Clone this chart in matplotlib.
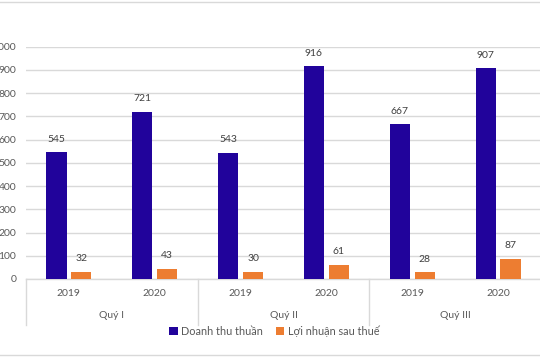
import matplotlib
matplotlib.use("Agg")
import matplotlib.pyplot as plt
import matplotlib.transforms as mtransforms
from matplotlib.patches import Patch
from matplotlib.lines import Line2D
import numpy as np

plt.rcParams['font.family'] = ['Lato', 'DejaVu Sans']

years = ["2019", "2020", "2019", "2020", "2019", "2020"]
quarters = ["Quý I", "Quý II", "Quý III"]
series_names = ["Doanh thu thuần", "Lợi nhuận sau thuế"]
revenue = [545, 721, 543, 916, 667, 907]
profit = [32, 43, 30, 61, 28, 87]

BLUE = "#21039B"
ORANGE = "#ED7D31"
TXT = "#595959"
GRID = "#D9D9D9"

W, H = 540, 360
fig = plt.figure(figsize=(W / 100, H / 100), dpi=100)
left, right, top, bottom = 26, 541, 46.7, 279
ax = fig.add_axes([left / W, 1 - bottom / H, (right - left) / W, (bottom - top) / H])

x = np.arange(len(years))
bw = 0.235
off = 0.145
b1 = ax.bar(x - off, revenue, bw, color=BLUE, zorder=3)
b2 = ax.bar(x + off, profit, bw, color=ORANGE, zorder=3)

for bars, vals in ((b1, revenue), (b2, profit)):
    for r, v in zip(bars, vals):
        ax.annotate(f"{v}", (r.get_x() + r.get_width() / 2, v),
                    xytext=(0, 9.4), textcoords="offset points",
                    ha="center", va="center", fontsize=7.5, color="#404040")

ax.set_xlim(-0.5, len(years) - 0.5)
ax.set_ylim(0, 1000)
ax.set_yticks(np.arange(0, 1001, 100))
ax.tick_params(axis="y", length=0, pad=7, labelsize=7.5, labelcolor=TXT)
ax.yaxis.grid(True, color=GRID, linewidth=1)
ax.set_axisbelow(True)
for s in ("left", "right", "top"):
    ax.spines[s].set_visible(False)
ax.spines["bottom"].set_color(GRID)
ax.spines["bottom"].set_linewidth(1)

ax.set_xticks(x)
ax.set_xticklabels([])
ax.tick_params(axis="x", length=0)

ax_h = bottom - top
trans = mtransforms.blended_transform_factory(ax.transData, ax.transAxes)
for xi, yr in zip(x, years):
    ax.text(xi, -14 / ax_h, yr, transform=trans, ha="center", va="center",
            fontsize=7.5, color=TXT)
for qi, q in enumerate(quarters):
    ax.text(2 * qi + 0.5, -37 / ax_h, q, transform=trans, ha="center", va="center",
            fontsize=7.5, color=TXT)
for sx in (-0.5, 1.5, 3.5):
    ax.add_line(Line2D([sx, sx], [0, -46 / ax_h], transform=trans, color=GRID,
                       linewidth=1, clip_on=False))

handles = [Patch(facecolor=BLUE), Patch(facecolor=ORANGE)]
fig.legend(handles, series_names, loc="center", bbox_to_anchor=(274 / W, 1 - 331 / H),
           ncol=2, frameon=False, fontsize=7.8, handlelength=0.8, handleheight=0.8,
           handletextpad=0.3, columnspacing=1.2, labelcolor=TXT)

for yy in (2, 355):
    fig.add_artist(Line2D([0, 1], [1 - yy / H, 1 - yy / H], transform=fig.transFigure,
                          color=GRID, linewidth=1))

fig.savefig("out.png", dpi=100)
